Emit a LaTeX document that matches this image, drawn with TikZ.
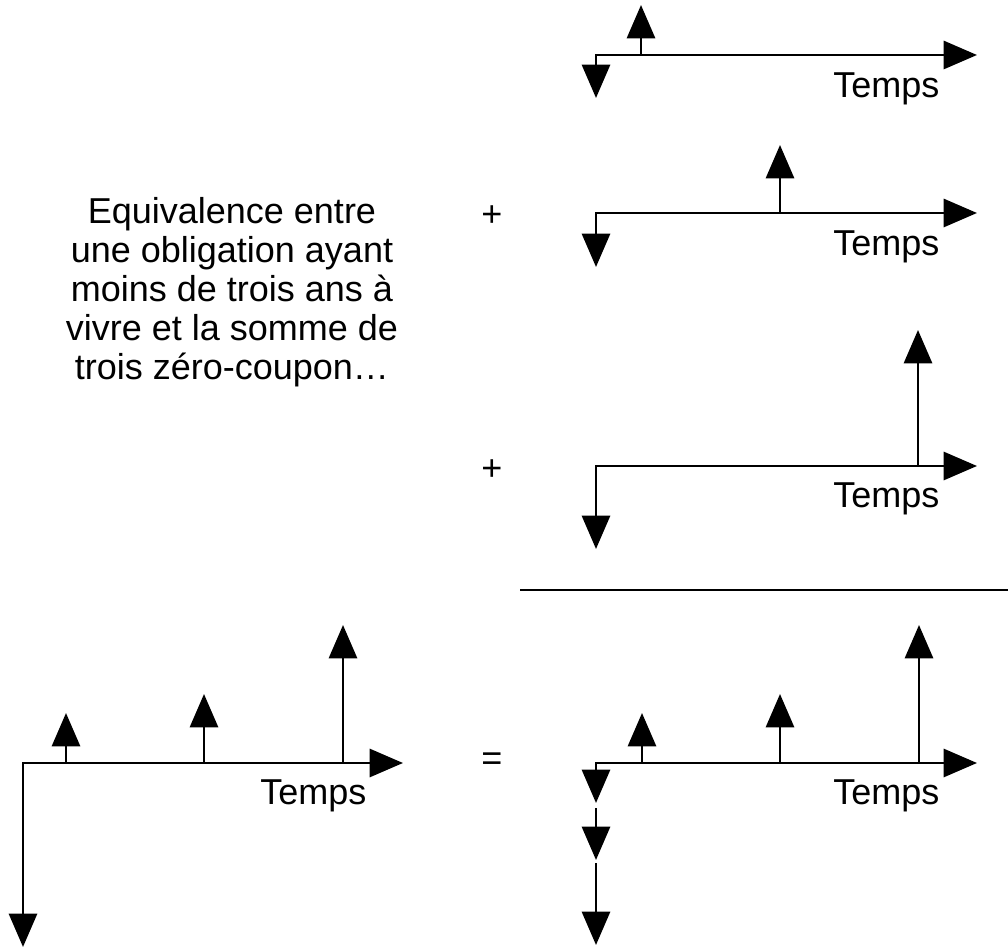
\documentclass[tikz,border=0pt]{standalone}
\usepackage{fontspec}
\setmainfont{Liberation Sans}
\usetikzlibrary{arrows.meta}
\tikzset{
  flux/.style={line width=2.2pt, -{Triangle[length=25pt,width=21pt]}},
  axe/.style={line width=2.2pt, {Triangle[length=25pt,width=21pt]}-{Triangle[length=25pt,width=21pt]}},
  etiq/.style={font=\fontsize{27}{29.3}\selectfont}
}
\begin{document}
\begin{tikzpicture}[x=0.75pt,y=-0.75pt]
  \useasboundingbox (0,0) rectangle (1008,948);
  % premier zero-coupon
  \draw [axe] (596,98) -- (596,55) -- (977,55);
  \draw [flux] (641,55) -- (641,5);
  \node [etiq, anchor=base east] (temps1) at (944,98) {Temps};
  % deuxieme zero-coupon
  \node [etiq] (plus1) at (492,216) {+};
  \draw [axe] (596,267) -- (596,213) -- (977,213);
  \draw [flux] (780,213) -- (780,145);
  \node [etiq, anchor=base east] (temps2) at (944,256) {Temps};
  % troisieme zero-coupon
  \node [etiq] (plus2) at (492,470) {+};
  \draw [axe] (596,549) -- (596,466) -- (977,466);
  \draw [flux] (918,466) -- (918,330);
  \node [etiq, anchor=base east] (temps3) at (944,508) {Temps};
  \draw [line width=2.2pt] (520,590) -- (1008,590);
  % texte
  \node [etiq, align=center] (titre) at (232,292) {Equivalence entre\\une obligation ayant\\moins de trois ans à\\vivre et la somme de\\trois zéro-coupon…};
  % obligation
  \draw [axe] (23,947) -- (23,763) -- (403,763);
  \foreach \x/\y in {66/713, 204/694, 343/625}
    \draw [flux] (\x,763) -- (\x,\y);
  \node [etiq, anchor=base east] (temps4) at (371,804) {Temps};
  % somme
  \node [etiq] (egal) at (492,762) {=};
  \draw [axe] (596,803) -- (596,763) -- (977,763);
  \draw [flux] (596,808) -- (596,860);
  \draw [flux] (596,863) -- (596,945);
  \foreach \x/\y in {642/713, 780/694, 919/625}
    \draw [flux] (\x,763) -- (\x,\y);
  \node [etiq, anchor=base east] (temps5) at (944,804) {Temps};
\end{tikzpicture}
\end{document}
